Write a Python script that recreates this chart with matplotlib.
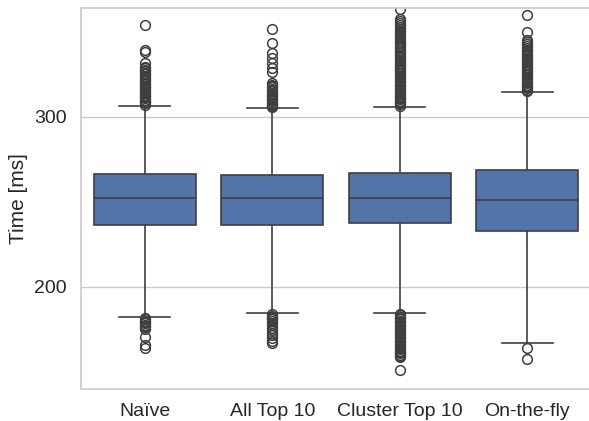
import numpy as np
import matplotlib
matplotlib.use("Agg")
import matplotlib.pyplot as plt

plt.rcParams['font.family'] = ['Liberation Sans', 'DejaVu Sans']

# ---- data ----
methods = ['Naïve', 'All Top 10', 'Cluster Top 10', 'On-the-fly']
q1 = [236.5, 236.5, 237.6, 232.9]
median = [252.4, 252.2, 252.4, 251.0]
q3 = [266.5, 265.9, 267.0, 268.8]
whisker_lo = [182.4, 184.6, 184.7, 167.0]
whisker_hi = [306.6, 305.1, 305.9, 314.7]

naive_out = [181.6, 180.9, 180.1, 179.4, 178.6, 177.8, 177.0, 176.2, 175.4, 170.6, 165.9, 164.1,
             307.2, 307.9, 308.5, 309.3, 310.0, 310.8, 311.5, 312.3, 313.0, 313.8, 314.6, 315.3,
             316.1, 316.9, 317.6, 318.4, 319.2, 320.0, 320.8, 321.5, 322.4, 323.2, 324.1, 325.0,
             325.9, 326.8, 327.7, 328.6, 329.5, 331.8, 338.0, 339.4, 354.0]
alltop_out = [184.0, 183.2, 182.4, 181.8, 181.0, 180.2, 178.8, 177.5, 175.9, 174.5, 173.0, 171.6,
              170.0, 168.5, 167.0,
              305.6, 306.3, 307.0, 307.7, 308.4, 309.1, 309.8, 310.6, 311.3, 312.0, 312.8, 313.5,
              314.3, 315.0, 315.8, 316.6, 317.4, 318.2, 319.0, 319.8, 326.5, 328.8, 331.8, 334.7,
              337.6, 343.5, 351.8]
cluster_out = [184.2, 183.4, 182.6, 181.8, 181.0, 180.2, 179.4, 178.6, 177.8, 177.0, 176.2, 175.4,
               174.6, 173.8, 173.0, 172.2, 171.4, 170.6, 169.8, 169.0, 168.2, 167.4, 166.6, 165.8,
               165.0, 164.2, 163.4, 162.6, 161.8, 161.0, 160.2, 159.4, 158.8, 151.2,
               306.6, 307.3, 308.0, 308.8, 309.5, 310.3, 311.0, 311.8, 312.5, 313.3, 314.0, 314.8,
               315.6, 316.3, 317.1, 317.9, 318.6, 319.4, 320.2, 321.0, 321.8, 322.6, 323.4, 324.2,
               325.0, 325.9, 326.7, 327.5, 328.4, 329.2, 330.1, 331.0, 331.9, 332.8, 333.7, 334.6,
               335.5, 336.5, 337.4, 338.4, 339.3, 340.3, 341.3, 342.3, 343.3, 344.3, 345.3, 346.4,
               347.4, 348.5, 349.6, 350.7, 351.8, 352.9, 354.0, 355.2, 356.3, 357.4, 363.5]
onthefly_out = [164.1, 157.6,
                315.3, 316.0, 316.8, 317.5, 318.3, 319.0, 319.8, 320.6, 321.3, 322.1, 322.9, 323.7,
                324.5, 325.3, 326.1, 326.9, 327.7, 328.5, 329.4, 330.2, 331.1, 332.0, 332.9, 333.8,
                334.7, 335.6, 336.6, 337.6, 338.6, 339.6, 340.7, 341.8, 342.9, 344.0, 345.2, 350.0,
                360.0]
outliers = [naive_out, alltop_out, cluster_out, onthefly_out]

stats = []
for i, name in enumerate(methods):
    stats.append(dict(label=name, q1=q1[i], med=median[i], q3=q3[i],
                      whislo=whisker_lo[i], whishi=whisker_hi[i],
                      fliers=np.array(outliers[i])))

# ---- plot ----
box_color = '#5274a8'
line_color = '#3f3f3f'
fig = plt.figure(figsize=(5.89, 4.21), dpi=100)
ax = fig.add_axes([0.1375, 0.076, 0.866, 0.905])

ax.bxp(stats, positions=range(4), widths=0.8, patch_artist=True, manage_ticks=False,
       boxprops=dict(facecolor=box_color, edgecolor=line_color, linewidth=1.2),
       medianprops=dict(color=line_color, linewidth=1.2),
       whiskerprops=dict(color=line_color, linewidth=1.2),
       capprops=dict(color=line_color, linewidth=1.2),
       flierprops=dict(marker='o', markerfacecolor='none', markeredgecolor=line_color,
                       markersize=7, markeredgewidth=1.1))

ax.set_xlim(-0.5, 3.5)
ax.set_ylim(140, 364)
ax.set_xticks(range(4))
ax.set_xticklabels(methods)
ax.set_yticks([200, 300])
ax.set_ylabel('Time [ms]', fontsize=15, color='#262626', labelpad=5)
ax.tick_params(axis='both', length=0, labelsize=14, colors='#262626', pad=10)
ax.yaxis.grid(True, color='#cccccc', linewidth=1.0)
ax.set_axisbelow(True)
for side in ['left', 'bottom', 'top']:
    ax.spines[side].set_color('#cccccc')
    ax.spines[side].set_linewidth(1.25)
ax.spines['right'].set_visible(False)

fig.savefig('out.png', dpi=100)
